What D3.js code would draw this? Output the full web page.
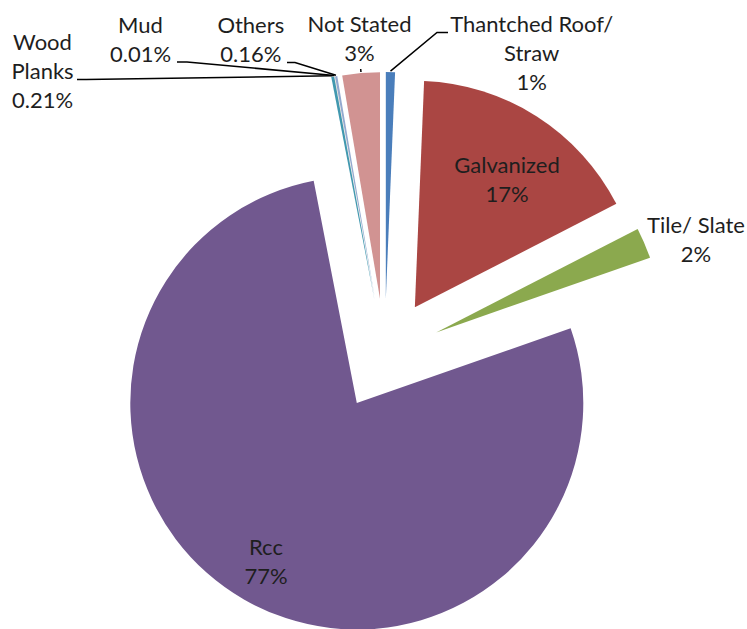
<!DOCTYPE html>
<html>
<head>
<meta charset="utf-8">
<script src="https://cdn.jsdelivr.net/npm/d3@7"></script>
<style>
  html, body { margin: 0; padding: 0; background: #fff; }
  svg { display: block; }
  text { font-family: Lato, "Open Sans", sans-serif; fill: #1e1e1e; }
</style>
</head>
<body>
<svg id="chart" width="747" height="629"></svg>
<script>
// ---- data ----
const categories = ["Thantched Roof/ Straw", "Galvanized", "Tile/ Slate", "Rcc", "Wood Planks", "Mud", "Others", "Not Stated"];
const values = [0.65, 16.8, 2.2, 77.3, 0.21, 0.01, 0.16, 2.67];
const percentLabels = ["1%", "17%", "2%", "77%", "0.21%", "0.01%", "0.16%", "3%"];
const labelLines = [
  ["Thantched Roof/", "Straw"],
  ["Galvanized"],
  ["Tile/ Slate"],
  ["Rcc"],
  ["Wood", "Planks"],
  ["Mud"],
  ["Others"],
  ["Not Stated"]
];
const colors = ["#4A7EBB", "#AA4643", "#8BA94E", "#71588F", "#4198AF", "#DB843D", "#93A9CF", "#D19392"];

// ---- layout ----
const W = 747, H = 629;
const cx = 384.7, cy = 354.5;     // unexploded pie centre
const R = 226.5;                  // radius
const explode = 56;               // explosion distance
const fontSize = 22, lineH = 29;

// label anchor: centre x, first baseline y, leader start points (null = none)
const labelLayout = [
  { x: 531.7, y: 32, leader: [[448, 32.5], [437, 32.5]] },
  { x: 507, y: 173, leader: null },
  { x: 696, y: 233, leader: null },
  { x: 266, y: 555, leader: null },
  { x: 42.5, y: 50, leader: [[77, 79.5], [86, 79.5]] },
  { x: 140.5, y: 33, leader: [[177, 62], [187, 62]] },
  { x: 250.8, y: 33, leader: [[287, 62.5], [295, 62.5]] },
  { x: 359.5, y: 32, leader: [[360.7, 69]] }
];

const svg = d3.select("#chart");

const pie = d3.pie().sort(null).value(d => d.value).startAngle(0).endAngle(2 * Math.PI);
const data = categories.map((c, i) => ({ name: c, value: values[i], i }));
const arcs = pie(data);
const arc = d3.arc().innerRadius(0).outerRadius(R);

const dir = a => [Math.sin(a), -Math.cos(a)];

const g = svg.append("g");
arcs.forEach(a => {
  const mid = (a.startAngle + a.endAngle) / 2;
  const [dx, dy] = dir(mid);
  a.ox = cx + explode * dx;
  a.oy = cy + explode * dy;
  a.mid = mid;
  g.append("path")
    .attr("d", arc(a))
    .attr("transform", `translate(${a.ox},${a.oy})`)
    .attr("fill", colors[a.data.i]);
});

// leader lines
const lineGen = d3.line();
arcs.forEach(a => {
  const L = labelLayout[a.data.i];
  if (!L.leader) return;
  const [dx, dy] = dir(a.mid);
  const end = [a.ox + (R + 1) * dx, a.oy + (R + 1) * dy];
  svg.append("path")
    .attr("d", lineGen([...L.leader, end]))
    .attr("fill", "none")
    .attr("stroke", "#000")
    .attr("stroke-width", 1.5);
});

// labels
arcs.forEach(a => {
  const i = a.data.i;
  const L = labelLayout[i];
  const lines = [...labelLines[i], percentLabels[i]];
  const t = svg.append("text")
    .attr("text-anchor", "middle")
    .attr("font-size", fontSize);
  lines.forEach((s, k) => {
    t.append("tspan").attr("x", L.x).attr("y", L.y + k * lineH).text(s);
  });
});
</script>
</body>
</html>
